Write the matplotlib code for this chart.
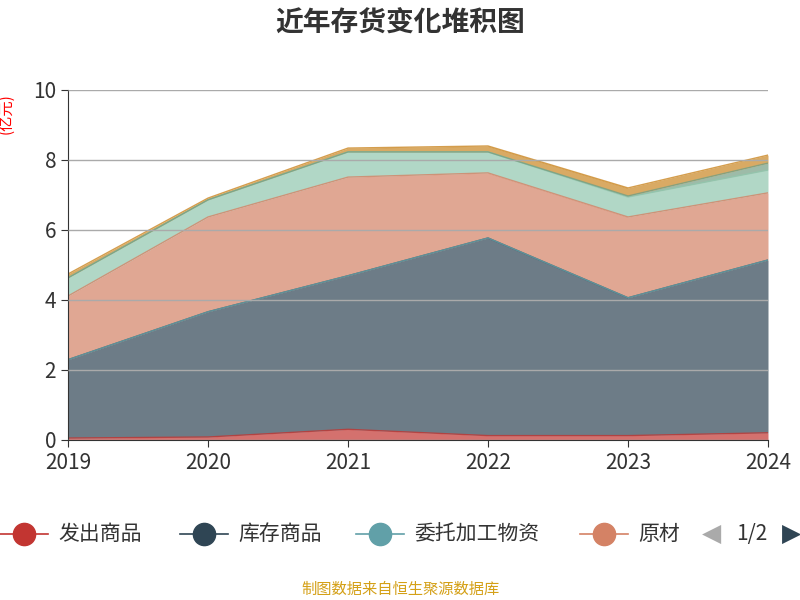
import matplotlib
matplotlib.use("Agg")
import matplotlib.pyplot as plt
from matplotlib import font_manager as fm
from matplotlib.lines import Line2D
import numpy as np

cjk = [f.name for f in fm.fontManager.ttflist if 'CJK' in f.name]
pref = [n for n in ['Noto Sans CJK SC', 'Noto Sans CJK JP', 'Noto Sans CJK TC', 'Noto Sans CJK KR'] if n in cjk] + cjk
plt.rcParams['font.family'] = 'sans-serif'
plt.rcParams['font.sans-serif'] = pref[:1] + ['DejaVu Sans']

years = ['2019', '2020', '2021', '2022', '2023', '2024']
fachu = [0.05, 0.08, 0.30, 0.12, 0.12, 0.20]
kucun = [2.24, 3.58, 4.39, 5.65, 3.94, 4.94]
weituo = [0.0, 0.0, 0.0, 0.0, 0.0, 0.0]
yuancailiao = [1.82, 2.71, 2.82, 1.86, 2.31, 1.92]
zaichan = [0.52, 0.49, 0.72, 0.60, 0.57, 0.65]
zhouzhuan = [0.0, 0.0, 0.0, 0.0, 0.03, 0.20]
qita = [0.11, 0.05, 0.11, 0.17, 0.23, 0.23]

series = [('发出商品', fachu, '#c23531'), ('库存商品', kucun, '#2f4554'),
          ('委托加工物资', weituo, '#61a0a8'), ('原材料', yuancailiao, '#d48265'),
          ('在产品', zaichan, '#91c7ae'), ('周转材料', zhouzhuan, '#749f83'),
          ('其他', qita, '#ca8622')]

fig = plt.figure(figsize=(8, 6), dpi=100)
ax = fig.add_axes([0.085, 0.267, 0.875, 0.583])
x = np.arange(len(years))
base = np.zeros(len(years))
for name, vals, c in series:
    top = base + np.array(vals)
    ax.fill_between(x, base, top, color=c, alpha=0.7, linewidth=0)
    ax.plot(x, top, color=c, lw=1, alpha=0.8)
    base = top

ax.set_xlim(0, 5)
ax.set_ylim(0, 10)
ax.set_xticks(x)
ax.set_xticklabels(years, fontsize=15, color='#333333')
ax.set_yticks([0, 2, 4, 6, 8, 10])
ax.set_yticklabels(['0', '2', '4', '6', '8', '10'], fontsize=15, color='#333333')
ax.grid(axis='y', color='#aaaaaa', lw=1)
ax.set_axisbelow(False)
for s in ['top', 'right']:
    ax.spines[s].set_visible(False)
ax.spines['left'].set_color('#333333')
ax.spines['bottom'].set_color('#333333')
ax.tick_params(color='#333333', length=5)

fig.text(0.5, 0.96, '近年存货变化堆积图', ha='center', va='center', fontsize=20, fontweight='bold', color='#333333')
fig.text(0.008, 0.81, '(亿元)', rotation=90, ha='center', va='center', fontsize=11, color='red')
fig.text(0.5, 0.018, '制图数据来自恒生聚源数据库', ha='center', va='center', fontsize=11, color='#d4a017')

ly = 0.11
items = [(0.0, '发出商品', '#c23531'), (0.225, '库存商品', '#2f4554'),
         (0.445, '委托加工物资', '#61a0a8'), (0.725, '原材', '#d48265')]
for lx, name, c in items:
    fig.add_artist(Line2D([lx, lx + 0.06], [ly, ly], color=c, lw=1.2, transform=fig.transFigure))
    fig.add_artist(Line2D([lx + 0.03], [ly], marker='o', ms=16, color=c, transform=fig.transFigure))
    fig.text(lx + 0.073, ly, name, ha='left', va='center', fontsize=15, color='#333333')
fig.text(0.89, ly, '◀', ha='center', va='center', fontsize=18, color='#aaaaaa', family='DejaVu Sans')
fig.text(0.94, ly, '1/2', ha='center', va='center', fontsize=15, color='#333333')
fig.text(0.99, ly, '▶', ha='center', va='center', fontsize=18, color='#2f4554', family='DejaVu Sans')

fig.savefig('out.png', dpi=100)
